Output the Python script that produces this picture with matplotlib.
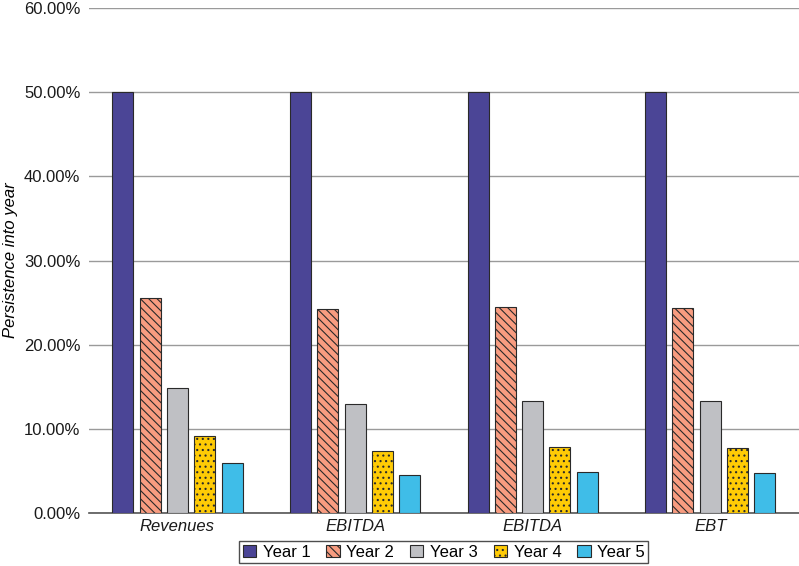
import numpy as np
import matplotlib
matplotlib.use('Agg')
import matplotlib.pyplot as plt
from matplotlib.ticker import FuncFormatter

plt.rcParams['font.family'] = ['Liberation Sans', 'DejaVu Sans']
plt.rcParams['hatch.linewidth'] = 0.8

categories = ['Revenues', 'EBITDA', 'EBITDA', 'EBT']
series = ['Year 1', 'Year 2', 'Year 3', 'Year 4', 'Year 5']
values = {
    'Year 1': [50.0, 50.0, 50.0, 50.0],
    'Year 2': [25.55, 24.25, 24.5, 24.4],
    'Year 3': [14.9, 13.0, 13.3, 13.3],
    'Year 4': [9.15, 7.4, 7.8, 7.7],
    'Year 5': [5.9, 4.5, 4.85, 4.75],
}
colors = ['#4b4596', '#f89c80', '#bfc0c4', '#ffcb05', '#3fbde8']
hatches = [None, '\\\\\\\\', None, '...', None]
yticks = [0, 10, 20, 30, 40, 50, 60]

fig = plt.figure(figsize=(7.99, 5.66), dpi=100)
ax = fig.add_axes([0.111, 0.0936, 0.889, 0.892])

x = np.arange(len(categories))
pitch = 0.1536
width = 0.118
for i, name in enumerate(series):
    ax.bar(x + (i - 2) * pitch, values[name], width, color=colors[i],
           hatch=hatches[i], edgecolor='#2a2a2a', linewidth=0.8,
           label=name, zorder=3)

ax.set_xlim(-0.5, 3.5)
ax.set_ylim(0, 60)
ax.set_yticks(yticks)
ax.yaxis.set_major_formatter(FuncFormatter(lambda v, p: '{0:.2f}%'.format(v)))
ax.set_xticks(x)
ax.set_xticklabels(categories, fontstyle='italic')
ax.tick_params(axis='both', length=0, labelsize=12, colors='#1a1a1a')
ax.tick_params(axis='y', pad=6)
ax.tick_params(axis='x', pad=4)
ax.grid(axis='y', color='#9a9a9a', linewidth=1.0, zorder=0)
for s in ['top', 'right', 'left']:
    ax.spines[s].set_visible(False)
ax.spines['bottom'].set_color('#555555')
ax.spines['bottom'].set_linewidth(1.2)
ax.set_ylabel('Persistence into year', fontstyle='italic', fontsize=12, labelpad=4)

leg = ax.legend(loc='upper center', bbox_to_anchor=(0.5, -0.056), ncol=5,
                frameon=True, fancybox=False, edgecolor='#222222', fontsize=12,
                handlelength=0.8, handleheight=0.8, handletextpad=0.4,
                columnspacing=0.95, borderpad=0.2, borderaxespad=0)
leg.get_frame().set_linewidth(1.0)

fig.savefig('out.png', dpi=100)
